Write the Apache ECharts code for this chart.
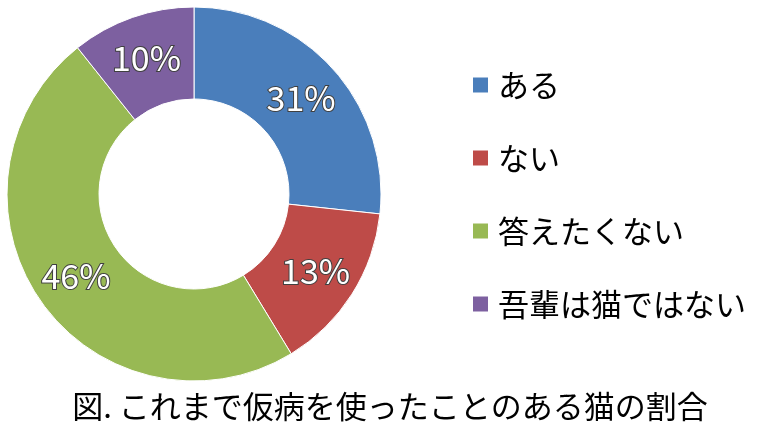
<!DOCTYPE html>
<html><head><meta charset="utf-8">
<script src="https://cdn.jsdelivr.net/npm/echarts@6/dist/echarts.min.js"></script>
<style>html,body{margin:0;padding:0;background:#fff}#c{width:765px;height:430px}</style>
</head><body><div id="c"></div>
<script>
const categories = ['ある','ない','答えたくない','吾輩は猫ではない'];
const values = [26.7, 14.6, 48.0, 10.7];
const labelTexts = ['31%','13%','46%','10%'];
const colors = ['#4a7ebb','#be4b48','#98b954','#7d60a0'];
const title = '図. これまで仮病を使ったことのある猫の割合';
const font = '"Noto Sans CJK JP", sans-serif';
const chart = echarts.init(document.getElementById('c'));
chart.setOption({
  animation:false,
  color: colors,
  title:{text:title,left:385,top:386,textAlign:'center',textStyle:{fontFamily:font,fontSize:31,fontWeight:'normal',color:'#000'}},
  legend:{orient:'vertical',left:466,top:62,itemGap:37,itemWidth:17,itemHeight:17,icon:'rect',
    textStyle:{fontFamily:font,fontSize:31,lineHeight:36,color:'#000',padding:[0,0,0,4]}},
  series:[{
    type:'pie',center:[194,194],radius:[95,187],startAngle:90,clockwise:true,
    itemStyle:{borderColor:'#fff',borderWidth:1},
    label:{position:'inside',formatter:p=>labelTexts[p.dataIndex],fontFamily:font,fontSize:34,color:'#fff',textBorderColor:'#404040',textBorderWidth:2},
    labelLine:{show:false},
    data: categories.map((n,i)=>({name:n,value:values[i]}))
  }]
});
</script></body></html>
